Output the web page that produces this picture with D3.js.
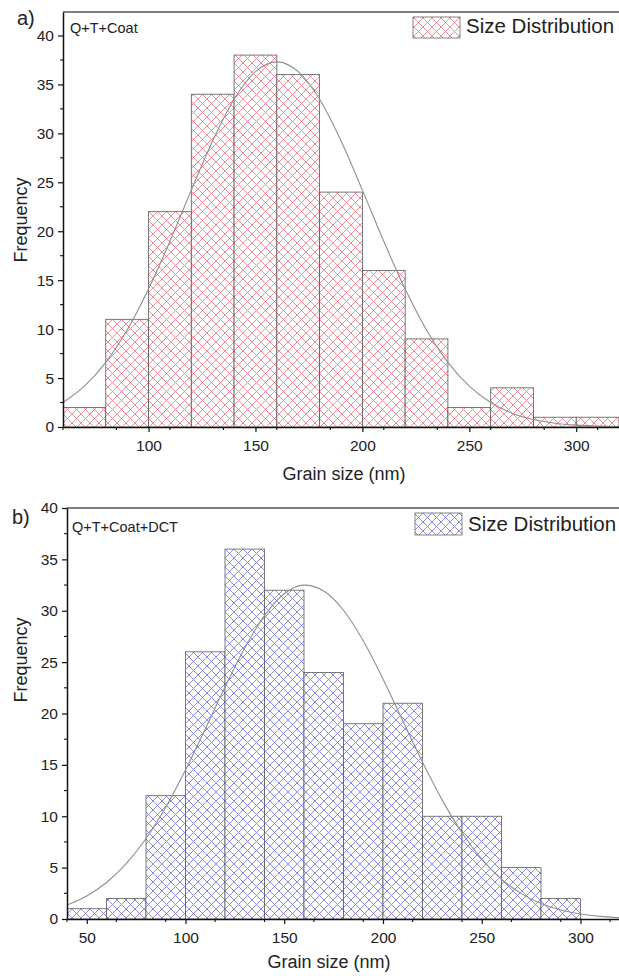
<!DOCTYPE html>
<html>
<head>
<meta charset="utf-8">
<script src="https://cdn.jsdelivr.net/npm/d3@7"></script>
<style>
  html, body { margin: 0; padding: 0; background: #fff; }
  svg { display: block; }
  text { font-family: "Liberation Sans", Arial, sans-serif; fill: #222; }
</style>
</head>
<body>
<svg id="chart" width="619" height="976"></svg>
<script>
// ---- Data: grain size histograms (bin width 20 nm) ----
const binStartsA = [60, 80, 100, 120, 140, 160, 180, 200, 220, 240, 260, 280, 300];
const countsA    = [2, 11, 22, 34, 38, 36, 24, 16, 9, 2, 4, 1, 1];

const binStartsB = [40, 60, 80, 100, 120, 140, 160, 180, 200, 220, 240, 260, 280];
const countsB    = [1, 2, 12, 26, 36, 32, 24, 19, 21, 10, 10, 5, 2];

const binWidth = 20;

// Normal fit curves, sampled every 10 nm
const fitXA = [60, 70, 80, 90, 100, 110, 120, 130, 140, 150, 160, 170, 180, 190, 200, 210, 220, 230, 240, 250, 260, 270, 280, 290, 300, 310, 320];
const fitYA = [2.50, 4.17, 6.61, 9.91, 14.09, 18.97, 24.20, 29.24, 33.48, 36.30, 37.30, 36.30, 33.48, 29.24, 24.20, 18.97, 14.09, 9.91, 6.61, 4.17, 2.50, 1.41, 0.76, 0.39, 0.19, 0.09, 0.04];

const fitXB = [40, 50, 60, 70, 80, 90, 100, 110, 120, 130, 140, 150, 160, 170, 180, 190, 200, 210, 220, 230, 240, 250, 260, 270, 280, 290, 300, 310, 320];
const fitYB = [1.36, 2.24, 3.55, 5.39, 7.83, 10.88, 14.50, 18.48, 22.57, 26.38, 29.53, 31.66, 32.49, 31.93, 30.05, 27.08, 23.36, 19.30, 15.27, 11.57, 8.39, 5.82, 3.87, 2.47, 1.50, 0.88, 0.49, 0.26, 0.13];

// Axis ranges and ticks
const xDomainA = [60, 320];
const yDomainA = [0, 42.4];
const xTicksA = [100, 150, 200, 250, 300];
const xDomainB = [40, 320];
const yDomainB = [0, 40];
const xTicksB = [50, 100, 150, 200, 250, 300];
const yTicks = [0, 5, 10, 15, 20, 25, 30, 35, 40];

const panelLabels = ["a)", "b)"];
const sampleNames = ["Q+T+Coat", "Q+T+Coat+DCT"];
const legendText = "Size Distribution";
const xTitle = "Grain size (nm)";
const yTitle = "Frequency";

// ---- Drawing ----
const svg = d3.select("#chart");
const defs = svg.append("defs");

function hatch(id, color) {
  const p = defs.append("pattern")
    .attr("id", id)
    .attr("patternUnits", "userSpaceOnUse")
    .attr("width", 9).attr("height", 9);
  p.append("rect").attr("width", 9).attr("height", 9).attr("fill", "#fff");
  p.append("path")
    .attr("d", "M-1,-1 L10,10 M10,-1 L-1,10 M-1,8 L1,10 M8,-1 L10,1 M8,10 L10,8 M-1,1 L1,-1")
    .attr("stroke", color).attr("stroke-width", 0.85).attr("fill", "none");
}
hatch("hatchRed", "#ea7a86");
hatch("hatchBlue", "#7676de");

const panels = [
  {
    starts: binStartsA, counts: countsA, fx: fitXA, fy: fitYA,
    xDomain: xDomainA, yDomain: yDomainA, xTicks: xTicksA,
    left: 63, right: 619, top: 12, bottom: 427,
    fill: "url(#hatchRed)", lab: panelLabels[0], name: sampleNames[0],
    labPos: [17, 25], namePos: [70, 33],
    legBox: [413, 17, 47, 21], legText: [466, 33],
    xTitlePos: [344, 480], yTitlePos: [27, 220]
  },
  {
    starts: binStartsB, counts: countsB, fx: fitXB, fy: fitYB,
    xDomain: xDomainB, yDomain: yDomainB, xTicks: xTicksB,
    left: 67, right: 620, top: 508, bottom: 919,
    fill: "url(#hatchBlue)", lab: panelLabels[1], name: sampleNames[1],
    labPos: [12, 524], namePos: [72, 532],
    legBox: [415, 513, 47, 22], legText: [468, 531],
    xTitlePos: [329, 968], yTitlePos: [27, 660]
  }
];

panels.forEach((P, i) => {
  const x = d3.scaleLinear().domain(P.xDomain).range([P.left, P.right]);
  const y = d3.scaleLinear().domain(P.yDomain).range([P.bottom, P.top]);
  const g = svg.append("g");

  const clipId = "clip" + i;
  defs.append("clipPath").attr("id", clipId)
    .append("rect")
    .attr("x", P.left).attr("y", P.top)
    .attr("width", P.right - P.left).attr("height", P.bottom - P.top);

  // histogram bars
  const bins = P.starts.map((s, k) => ({ x0: s, x1: s + binWidth, n: P.counts[k] }));
  g.append("g").attr("clip-path", `url(#${clipId})`)
    .selectAll("rect").data(bins).join("rect")
    .attr("x", d => x(d.x0))
    .attr("y", d => y(d.n))
    .attr("width", d => x(d.x1) - x(d.x0))
    .attr("height", d => y(0) - y(d.n))
    .attr("fill", P.fill)
    .attr("stroke", "#5a5a5a")
    .attr("stroke-width", 0.8);

  // fitted curve
  const pts = P.fx.map((v, k) => [v, P.fy[k]]);
  g.append("path")
    .attr("clip-path", `url(#${clipId})`)
    .attr("d", d3.line().x(d => x(d[0])).y(d => y(d[1])).curve(d3.curveMonotoneX)(pts))
    .attr("fill", "none")
    .attr("stroke", "#8f8f8f")
    .attr("stroke-width", 1.1);

  // top frame line
  g.append("line")
    .attr("x1", P.left).attr("x2", P.right)
    .attr("y1", P.top).attr("y2", P.top)
    .attr("stroke", "#555").attr("stroke-width", 1.6);

  // x axis
  const minorX = d3.range(P.xDomain[0], P.xDomain[1] + 0.1, 25).filter(v => v % 50 !== 0);
  const xAxis = g.append("g").attr("transform", `translate(0,${P.bottom})`);
  xAxis.call(d3.axisBottom(x).tickValues(P.xTicks).tickSize(5).tickPadding(8).tickSizeOuter(0))
    .call(a => a.select(".domain").attr("stroke", "#111").attr("stroke-width", 1.5))
    .call(a => a.selectAll(".tick line").attr("stroke", "#111").attr("stroke-width", 1.2))
    .call(a => a.selectAll(".tick text")
      .style("font-family", "'Liberation Sans', Arial, sans-serif")
      .style("font-size", "15.5px").attr("fill", "#333"));
  xAxis.selectAll(".minor").data(minorX).join("line")
    .attr("class", "minor")
    .attr("x1", d => x(d)).attr("x2", d => x(d))
    .attr("y1", 0).attr("y2", 3)
    .attr("stroke", "#111").attr("stroke-width", 1.1);

  // y axis
  const minorY = d3.range(2.5, P.yDomain[1], 5);
  const yAxis = g.append("g").attr("transform", `translate(${P.left},0)`);
  yAxis.call(d3.axisLeft(y).tickValues(yTicks).tickSize(5).tickPadding(4).tickSizeOuter(0))
    .call(a => a.select(".domain").attr("stroke", "#111").attr("stroke-width", 1.5))
    .call(a => a.selectAll(".tick line").attr("stroke", "#111").attr("stroke-width", 1.2))
    .call(a => a.selectAll(".tick text")
      .style("font-family", "'Liberation Sans', Arial, sans-serif")
      .style("font-size", "15.5px").attr("fill", "#333"));
  yAxis.selectAll(".minor").data(minorY).join("line")
    .attr("class", "minor")
    .attr("x1", 0).attr("x2", -3)
    .attr("y1", d => y(d)).attr("y2", d => y(d))
    .attr("stroke", "#111").attr("stroke-width", 1.1);

  // titles
  g.append("text")
    .attr("x", P.xTitlePos[0]).attr("y", P.xTitlePos[1])
    .attr("text-anchor", "middle")
    .style("font-size", "18px")
    .text(xTitle);
  g.append("text")
    .attr("transform", `translate(${P.yTitlePos[0]},${P.yTitlePos[1]}) rotate(-90)`)
    .attr("text-anchor", "middle")
    .style("font-size", "18px")
    .text(yTitle);

  // panel letter and sample name
  g.append("text")
    .attr("x", P.labPos[0]).attr("y", P.labPos[1])
    .style("font-size", "20px")
    .text(P.lab);
  g.append("text")
    .attr("x", P.namePos[0]).attr("y", P.namePos[1])
    .style("font-size", "14.5px")
    .text(P.name);

  // legend
  g.append("rect")
    .attr("x", P.legBox[0]).attr("y", P.legBox[1])
    .attr("width", P.legBox[2]).attr("height", P.legBox[3])
    .attr("fill", P.fill)
    .attr("stroke", "#666").attr("stroke-width", 0.8);
  g.append("text")
    .attr("x", P.legText[0]).attr("y", P.legText[1])
    .style("font-size", "20.5px")
    .text(legendText);
});
</script>
</body>
</html>
